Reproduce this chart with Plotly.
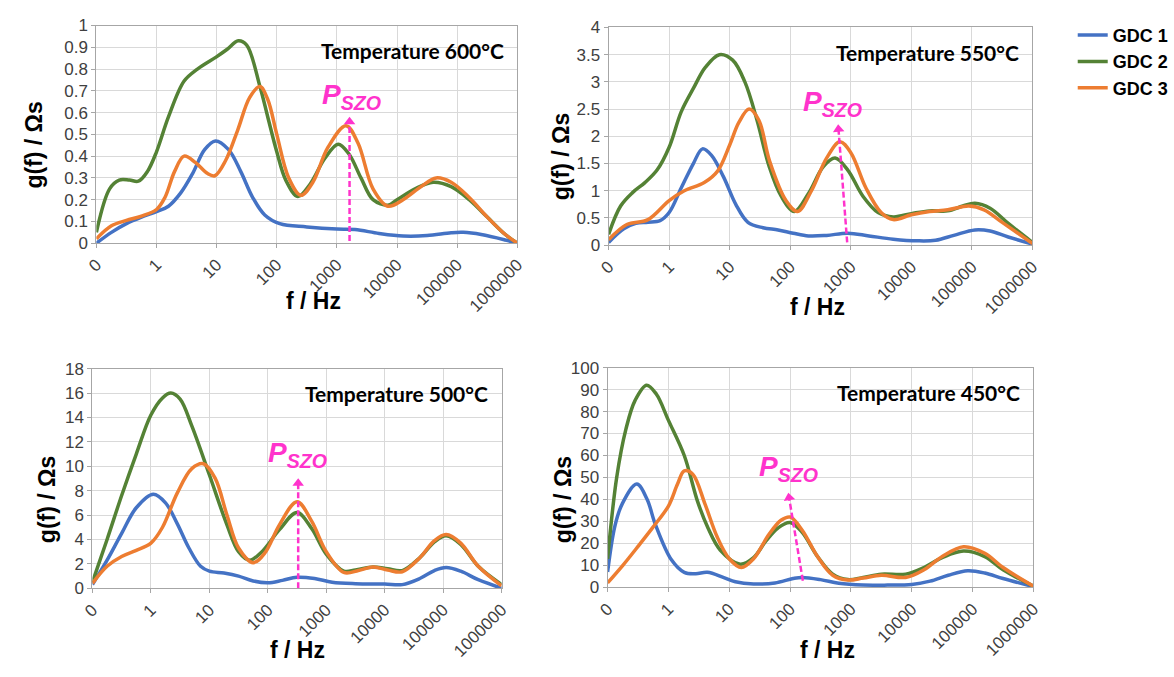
import math
import plotly.graph_objects as go

# ---------------- data (frequency in Hz, g(f) in Ohm*s) ----------------
# 600 C
f600_1 = [0.1,0.178,0.316,0.562,1,1.58,2.51,3.98,6.31,9.55,15.8,25.1,39.8,63.1,112,316,1000,1995,5012,12589,31623,79433,125893,251189,630957,1e6]
g600_1 = [0.0,0.05,0.09,0.12,0.145,0.17,0.23,0.32,0.43,0.47,0.43,0.33,0.21,0.13,0.09,0.075,0.065,0.063,0.045,0.033,0.035,0.048,0.05,0.04,0.015,0.0]
f600_2 = [0.1,0.166,0.24,0.355,0.5,0.708,1,1.58,2.88,4.79,9.77,14.8,22.9,31.6,52.5,70.8,100,141,224,355,631,1047,1585,2512,3981,7079,1e4,19953,39811,79433,158489,316228,630957,1e6]
g600_2 = [0.05,0.25,0.29,0.29,0.285,0.33,0.42,0.58,0.745,0.80,0.855,0.89,0.93,0.91,0.72,0.58,0.42,0.29,0.215,0.27,0.39,0.455,0.41,0.3,0.2,0.175,0.2,0.25,0.28,0.26,0.2,0.12,0.04,0.0]
f600_3 = [0.1,0.178,0.316,0.562,1,1.38,2.0,2.88,4.47,7.08,9.33,14.1,22.4,35.5,52.5,70.8,100,158,251,398,708,1413,2239,3981,7079,12589,25119,44668,79433,158489,316228,630957,1e6]
g600_3 = [0.02,0.08,0.105,0.125,0.155,0.21,0.33,0.40,0.37,0.32,0.31,0.38,0.52,0.67,0.72,0.66,0.5,0.3,0.22,0.28,0.44,0.54,0.46,0.25,0.17,0.2,0.26,0.30,0.28,0.21,0.12,0.04,0.0]

# 550 C
f550_1 = [0.1,0.178,0.282,0.447,0.708,1,1.58,2.51,3.55,5.01,7.94,12.6,20,35.5,63.1,112,200,398,891,1995,5012,12589,25119,50119,112202,199526,398107,1e6]
g550_1 = [0.05,0.3,0.4,0.42,0.45,0.6,1.05,1.5,1.77,1.65,1.25,0.75,0.42,0.32,0.28,0.22,0.17,0.18,0.22,0.17,0.11,0.08,0.09,0.18,0.28,0.26,0.15,0.02]
f550_2 = [0.1,0.158,0.251,0.398,0.631,1,1.58,2.51,3.98,6.76,11.2,17.8,28.2,44.7,70.8,117,200,355,550,891,1585,2818,5012,1e4,19953,39811,70795,112202,199526,398107,1e6]
g550_2 = [0.2,0.72,0.97,1.15,1.38,1.8,2.45,2.88,3.27,3.5,3.4,3.0,2.3,1.45,0.9,0.62,0.95,1.45,1.6,1.38,0.9,0.6,0.52,0.58,0.63,0.63,0.72,0.77,0.68,0.4,0.05]
f550_3 = [0.1,0.2,0.447,1,1.78,3.8,6.31,10,14.1,20.9,30.2,45.7,85,132,224,398,661,1000,1778,3162,5012,1e4,19953,39811,89125,158489,316228,1e6]
g550_3 = [0.1,0.38,0.47,0.82,1.0,1.15,1.36,1.84,2.25,2.5,2.3,1.54,0.82,0.62,1.0,1.6,1.9,1.7,1.05,0.6,0.47,0.56,0.62,0.65,0.72,0.65,0.42,0.03]

# 500 C
f500_1 = [0.1,0.178,0.316,0.562,1.1,1.78,2.82,4.47,7.08,10,17.8,31.6,56.2,100,178,316,631,1259,3162,1e4,19953,39811,70795,112202,199526,398107,1e6]
g500_1 = [0.3,2.3,4.5,6.6,7.7,7.0,5.3,3.3,1.8,1.4,1.25,1.0,0.6,0.45,0.65,0.9,0.8,0.5,0.38,0.35,0.3,0.8,1.45,1.7,1.4,0.7,0.0]
f500_2 = [0.1,0.178,0.316,0.562,1,1.58,2.19,3.16,5.01,10,20,31.6,49,79.4,158,316,562,1000,1995,3162,6310,11220,19953,39811,70795,112202,199526,398107,1e6]
g500_2 = [0.5,4.0,7.6,11.0,14.2,15.6,16.0,15.5,13.3,9.3,5.2,3.0,2.3,3.0,4.8,6.2,4.9,2.8,1.4,1.5,1.75,1.6,1.45,2.5,3.8,4.3,3.6,1.8,0.3]
f500_3 = [0.1,0.178,0.316,0.562,1,1.58,2.82,5.01,7.94,12.6,20,31.6,56.2,89.1,158,316,562,1000,1995,3548,6310,11220,19953,39811,70795,112202,199526,398107,1e6]
g500_3 = [0.4,1.8,2.6,3.1,3.7,5.0,7.8,9.8,10.2,9.0,6.0,3.3,2.1,2.9,5.2,7.1,5.5,3.0,1.3,1.45,1.75,1.5,1.35,2.5,3.9,4.4,3.7,1.8,0.2]

# 450 C
f450_1 = [0.1,0.132,0.174,0.302,0.447,0.603,1.12,1.82,2.82,4.37,8.13,12.6,25.1,56.2,112,158,316,631,1585,3981,1e4,19953,39811,83176,158489,316228,1e6]
g450_1 = [7,28,38,47,40,29,12.5,6.8,6.2,6.8,4.4,2.5,1.5,2,4,4.5,3.5,1.8,1.0,1.0,1.3,2.8,5.5,7.5,6.5,4,0.3]
f450_2 = [0.1,0.141,0.2,0.282,0.437,0.631,1,1.82,3.02,4.47,7.08,15.1,25.1,39.8,63.1,100,158,282,501,891,1585,3162,7943,15849,31623,70795,158489,316228,1e6]
g450_2 = [13,50,72,85,92,88,76,60,39,27,17,10.5,13.5,21,27,29.5,25,14,6,3.5,4.5,6,6,9,13.5,16.5,14,8,0.5]
f450_3 = [0.1,0.178,0.324,0.562,1,1.41,1.82,2.51,3.98,6.31,10,15.8,25.1,44.7,70.8,100,158,282,501,891,1585,3162,7943,15849,31623,70795,158489,316228,1e6]
g450_3 = [2,10,19,27.5,37,47,53,51.5,38,23,13,9,13,24,30.5,32,26,14,5.5,3.3,4.2,5.5,4.5,8,14,18.5,15.5,9,0.5]

series_names = ["GDC 1", "GDC 2", "GDC 3"]
series_colors = ["#4472C4", "#548235", "#ED7D31"]
temperatures = ["Temperature 600°C", "Temperature 550°C", "Temperature 500°C", "Temperature 450°C"]
y_max = [1, 4, 18, 100]
y_dtick = [0.1, 0.5, 2, 10]
x_tickvals = [0.1, 1, 10, 100, 1000, 10000, 100000, 1000000]
x_ticktext = ["0", "1", "10", "100", "1000", "10000", "100000", "1000000"]

# P_SZO arrows: base (Hz, g) -> tip (Hz, g)
arrow_base_f = [1622, 871, 331, 162]
arrow_base_g = [0.01, 0.05, 0.0, 3.0]
arrow_tip_f = [1622, 617, 331, 93.3]
arrow_tip_g = [0.58, 2.22, 9.0, 43.0]
label_f = [1738, 490, 324, 95.5]
label_g = [0.675, 2.61, 11.0, 54.0]

panels = [
    [(f600_1, g600_1), (f600_2, g600_2), (f600_3, g600_3)],
    [(f550_1, g550_1), (f550_2, g550_2), (f550_3, g550_3)],
    [(f500_1, g500_1), (f500_2, g500_2), (f500_3, g500_3)],
    [(f450_1, g450_1), (f450_2, g450_2), (f450_3, g450_3)],
]

# layout geometry (pixels)
W, H = 1174, 677
plot_px = [  # x0, x1, ytop, ybottom
    (87, 516, 17, 241),
    (609, 1041, 19, 243),
    (83, 500, 370, 596),
    (608, 1042, 369, 595),
]

MAG = "#FF33CC"
ARIAL = "Liberation Sans, Arial, sans-serif"
TICKFONT = dict(family=ARIAL, size=17, color="#404040")

fig = go.Figure()
annotations = []
for i, panel in enumerate(panels):
    xa = "x" if i == 0 else f"x{i+1}"
    ya = "y" if i == 0 else f"y{i+1}"
    for j, (fx, gy) in enumerate(panel):
        fig.add_trace(go.Scatter(
            x=fx, y=gy, mode="lines", name=f"<b>{series_names[j]}</b>",
            line=dict(color=series_colors[j], width=3.5, shape="spline", smoothing=1.0),
            xaxis=xa, yaxis=ya, legendgroup=series_names[j], showlegend=(i == 0),
            hoverinfo="skip"))
    x0, x1, yt, yb = plot_px[i]
    ppx = (x1 - x0) / 7.0
    ppy = (yb - yt) / y_max[i]
    lb = math.log10(arrow_base_f[i]); lt = math.log10(arrow_tip_f[i])
    dxp = (lt - lb) * ppx
    dyp = (arrow_tip_g[i] - arrow_base_g[i]) * ppy
    L = math.hypot(dxp, dyp)
    back = 5.0  # px from tip to triangle centre
    cx = lt - dxp / L * back / ppx
    cy = arrow_tip_g[i] - dyp / L * back / ppy
    # dashed arrow shaft
    fig.add_trace(go.Scatter(
        x=[arrow_base_f[i], 10 ** cx], y=[arrow_base_g[i], cy],
        mode="lines", line=dict(color=MAG, width=2.5, dash="6px,3px"),
        xaxis=xa, yaxis=ya, showlegend=False, hoverinfo="skip"))
    # arrow head
    fig.add_trace(go.Scatter(
        x=[10 ** cx], y=[cy], mode="markers",
        marker=dict(symbol="triangle-up", size=10, color=MAG,
                    angle=math.degrees(math.atan2(dxp, dyp)), line=dict(width=0)),
        xaxis=xa, yaxis=ya, showlegend=False, hoverinfo="skip", cliponaxis=False))
    annotations.append(dict(
        x=math.log10(label_f[i]), y=label_g[i], xref=xa, yref=ya,
        text="<b><i>P<sub>SZO</sub></i></b>", showarrow=False,
        font=dict(family=ARIAL, size=28, color=MAG),
        xanchor="center", yanchor="middle"))
    # temperature label
    annotations.append(dict(
        x=(x1 - 12) / W, y=1 - (yt + 26) / H, xref="paper", yref="paper",
        text=f"<b>{temperatures[i]}</b>", showarrow=False, xanchor="right", yanchor="middle",
        font=dict(family="Lato, Carlito, sans-serif", size=21, color="black")))

    axis_common = dict(showgrid=True, gridcolor="#D9D9D9", gridwidth=1,
                       showline=True, linecolor="#A6A6A6", linewidth=1, mirror=True,
                       ticks="outside", ticklen=4, tickcolor="#A6A6A6",
                       tickfont=TICKFONT, zeroline=False)
    fig.update_layout({
        ("xaxis" if i == 0 else f"xaxis{i+1}"): dict(
            type="log", range=[-1, 6], domain=[x0 / W, x1 / W], anchor=ya,
            tickvals=x_tickvals, ticktext=x_ticktext, tickangle=-45, **axis_common),
        ("yaxis" if i == 0 else f"yaxis{i+1}"): dict(
            range=[0, y_max[i]], dtick=y_dtick[i], domain=[1 - yb / H, 1 - yt / H],
            anchor=xa, **axis_common),
    })

# axis titles
ytitle_pos = [(24, 140), (560, 152), (37, 505), (562, 505)]
xtitle_pos = [(308, 300), (822, 307), (292, 660), (832, 660)]
for (px, py) in ytitle_pos:
    annotations.append(dict(x=px / W, y=1 - py / H, xref="paper", yref="paper",
                            xanchor="center", yanchor="middle",
                            text="<b>g(f) / Ωs</b>", textangle=-90, showarrow=False,
                            font=dict(family=ARIAL, size=23, color="black")))
for (px, py) in xtitle_pos:
    annotations.append(dict(x=px / W, y=1 - py / H, xref="paper", yref="paper",
                            xanchor="center", yanchor="middle",
                            text="<b>f / Hz</b>", showarrow=False,
                            font=dict(family=ARIAL, size=23, color="black")))

fig.update_layout(
    width=W, height=H, margin=dict(l=0, r=0, t=0, b=0),
    paper_bgcolor="white", plot_bgcolor="white",
    annotations=annotations,
    legend=dict(x=1082 / W, y=1 - 8 / H, xanchor="left", yanchor="top",
                font=dict(family=ARIAL, size=18, color="black"),
                bgcolor="rgba(0,0,0,0)", itemwidth=30, tracegroupgap=0),
)

fig.write_html("out.html")
